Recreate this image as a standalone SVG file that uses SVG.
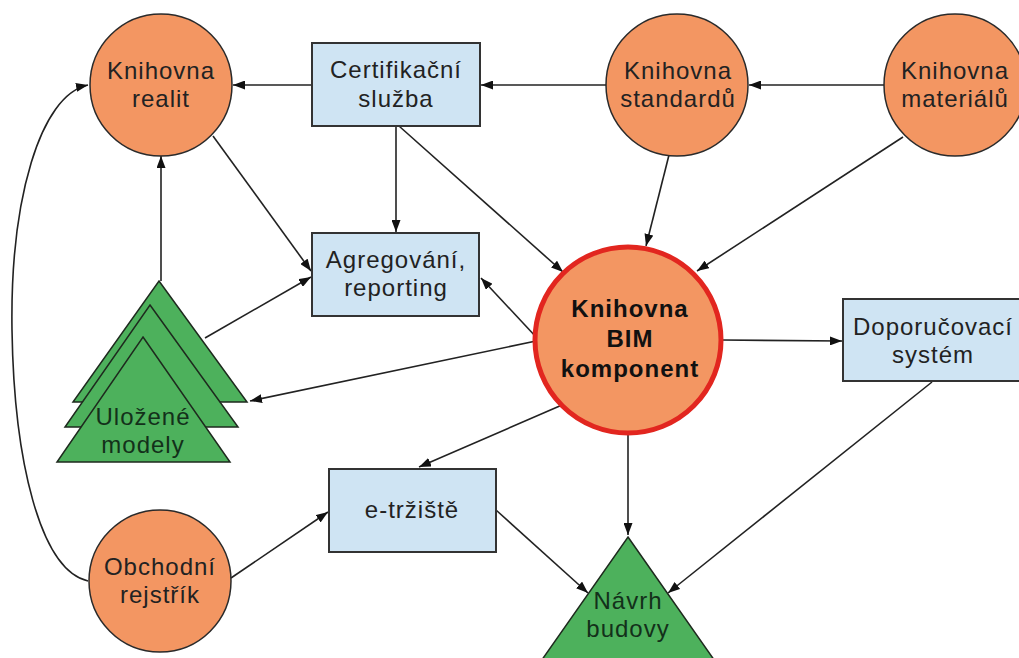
<svg xmlns="http://www.w3.org/2000/svg" width="1019" height="658" viewBox="0 0 1019 658">
<style>
.c{fill:#F39662;stroke:#2a2a2a;stroke-width:1.5}
.b{fill:#CFE4F3;stroke:#333;stroke-width:2}
.g{fill:#4DB15C;stroke:#1e2a1e;stroke-width:1.5}
.t{font-family:"Liberation Sans",Arial,sans-serif;font-size:24px;letter-spacing:1px;text-anchor:middle;fill:#222}
.tg{fill:#13301a}
.bold{font-weight:bold;fill:#111}
.e{fill:none;stroke:#222;stroke-width:1.6}
</style>
<defs>
<marker id="a" markerUnits="userSpaceOnUse" markerWidth="12" markerHeight="9" refX="12" refY="4.5" orient="auto">
<path d="M0,0 L12,4.5 L0,9 z" fill="#111"/>
</marker>
</defs>
<rect width="1019" height="658" fill="#fff"/>
<g id="connectors">
<path class="e" marker-end="url(#a)" d="M312,85 L233,85"/>
<path class="e" marker-end="url(#a)" d="M607,85 L481,85"/>
<path class="e" marker-end="url(#a)" d="M885,85 L749,85"/>
<path class="e" marker-end="url(#a)" d="M396,126 L396,232"/>
<path class="e" marker-end="url(#a)" d="M399,126 L563,272"/>
<path class="e" marker-end="url(#a)" d="M213,136 L311,271"/>
<path class="e" marker-end="url(#a)" d="M161,281 L161,156"/>
<path class="e" marker-end="url(#a)" d="M205,338 L311,277"/>
<path class="e" marker-end="url(#a)" d="M537,338 L481,278"/>
<path class="e" marker-end="url(#a)" d="M536,341 L250,401"/>
<path class="e" marker-end="url(#a)" d="M669,155 L646,246"/>
<path class="e" marker-end="url(#a)" d="M903,137 L697,271"/>
<path class="e" marker-end="url(#a)" d="M722,340 L842,341"/>
<path class="e" marker-end="url(#a)" d="M562,405 L419,467"/>
<path class="e" marker-end="url(#a)" d="M628,434 L628,535"/>
<path class="e" marker-end="url(#a)" d="M496,510 L588,593"/>
<path class="e" marker-end="url(#a)" d="M932,382 L668,593"/>
<path class="e" marker-end="url(#a)" d="M231,578 L328,512"/>
<path class="e" marker-end="url(#a)" d="M88,581 C40,570 14,460 12,330 C10,200 40,95 88,85"/>
</g>
<g id="knihovna-realit">
<circle class="c" cx="161" cy="85" r="71"/>
<text class="t" x="161" y="79">Knihovna</text>
<text class="t" x="161" y="107">realit</text>
</g>
<g id="certifikacni-sluzba">
<rect class="b" x="312" y="43" width="168" height="83"/>
<text class="t" x="396" y="78">Certifikační</text>
<text class="t" x="396" y="107">služba</text>
</g>
<g id="knihovna-standardu">
<circle class="c" cx="677" cy="85" r="71"/>
<text class="t" x="678" y="79">Knihovna</text>
<text class="t" x="678" y="107">standardů</text>
</g>
<g id="knihovna-materialu">
<circle class="c" cx="955" cy="85" r="71"/>
<text class="t" x="955" y="79">Knihovna</text>
<text class="t" x="955" y="107">materiálů</text>
</g>
<g id="agregovani">
<rect class="b" x="312" y="233" width="167" height="83"/>
<text class="t" x="396" y="268">Agregování,</text>
<text class="t" x="396" y="296">reporting</text>
</g>
<g id="knihovna-bim">
<circle cx="628" cy="340" r="93" fill="#F39662" stroke="#E2261F" stroke-width="5"/>
<text class="t bold" x="630" y="317">Knihovna</text>
<text class="t bold" x="630" y="347">BIM</text>
<text class="t bold" x="630" y="377">komponent</text>
</g>
<g id="doporucovaci-system">
<rect class="b" x="843" y="299" width="180" height="82"/>
<text class="t" x="933" y="335">Doporučovací</text>
<text class="t" x="933" y="363">systém</text>
</g>
<g id="ulozene-modely">
<polygon class="g" points="159,281 247,402 73,402"/>
<polygon class="g" points="150,305 238,427 65,427"/>
<polygon class="g" points="143,337 230,462 57,462"/>
<text class="t tg" x="143" y="425">Uložené</text>
<text class="t tg" x="143" y="453">modely</text>
</g>
<g id="e-trziste">
<rect class="b" x="329" y="469" width="167" height="83"/>
<text class="t" x="412" y="518">e-tržiště</text>
</g>
<g id="obchodni-rejstrik">
<circle class="c" cx="160" cy="581" r="71"/>
<text class="t" x="160" y="575">Obchodní</text>
<text class="t" x="160" y="603">rejstřík</text>
</g>
<g id="navrh-budovy">
<polygon class="g" points="628,537 717,664 539,664"/>
<text class="t tg" x="628" y="609">Návrh</text>
<text class="t tg" x="628" y="637">budovy</text>
</g>
</svg>
